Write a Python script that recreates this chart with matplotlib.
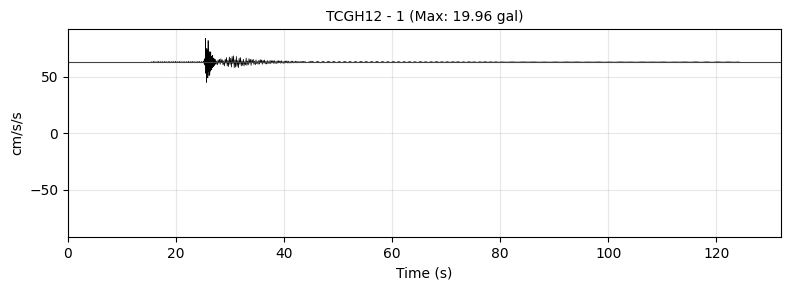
import numpy as np
import matplotlib
matplotlib.use("Agg")
import matplotlib.pyplot as plt

title = "TCGH12 - 1 (Max: 19.96 gal)"
baseline = 62.8

# segments: (start time s, step s, offsets from baseline in cm/s/s)
pre_start, pre_dt = 15.5, 0.2
pre_vals = [0.3, -0.4, 0.5, -0.3, 0.2, -0.5, 0.6, -0.4, 0.3, -0.3, 0.4, -0.6, 0.5,
            -0.3, 0.2, -0.4, 0.5, -0.5, 0.3, -0.2, 0.4, -0.5, 0.6, -0.4, 0.3, -0.3,
            0.5, -0.4, 0.2, -0.3, 0.4, -0.5, 0.3, -0.4, 0.6, -0.5, 0.4, -0.3, 0.5,
            -0.4, 0.3, -0.5, 0.4, -0.3, 0.5, -0.6, 0.4, -0.5]

main_start, main_dt = 25.1, 0.06
main_vals = [0.8, -1.0, 1.5, -2.0, 3.0, -3.0, 21.0, -10.0, 6.0, -18.0, 12.0, -9.0,
             10.0, -14.0, 19.0, -8.0, 9.0, -12.0, 9.0, -11.0, 7.0, -8.0, 9.0, -6.0,
             5.0, -7.0, 4.0, -5.0, 6.0, -4.0, 3.5, -4.0, 3.0, -3.0, 2.5, -2.0]

coda_start, coda_dt = 27.26, 0.13
coda_vals = [2.5, -2.0, 1.0, -2.5, 2.0, -1.0, 2.5, -2.0, 3.0, -0.5, 2.0, -2.5,
             1.0, -3.5, 2.5, -1.0, 4.0, -3.5, 1.5, -4.0, 4.5, -2.0, 3.5, -4.5, 5.0,
             -1.5, 5.5, -5.0, 2.0, -4.5, 5.0, -4.0, 1.5, -5.0, 3.5, -2.0, 4.0, -3.5,
             1.0, -3.0, 2.5, -3.5, 0.5, -2.5, 3.5, -3.0, 1.0, -2.5, 3.0, -1.0, 2.5,
             -3.0, 2.0, -0.5, 2.5, -2.0, 1.0, -2.5,
             2.0, -1.5, 0.5, -2.0, 1.5, -1.8, 2.2, -0.5, 1.8, -2.0, 1.5, -0.8, 1.8,
             -1.6, 0.6, -1.8, 1.4, -1.5, 0.5, -1.2, 1.5, -1.4, 1.2, -0.4, 1.3, -1.2, 1.4,
             -1.2, 0.4, -1.3, 1.1, -1.0, 1.2, -0.3, 0.9, -1.0, 1.2, -0.9, 0.3, -1.1,
             0.8, -1.0, 0.9, -0.3, 1.0, -0.9, 0.8, -0.9, 0.2, -0.8, 0.9, -0.7, 0.8,
             -0.8, 0.3, -0.6, 0.8, -0.7, 0.6, -0.7, 0.5, -0.6, 0.2, -0.6, 0.6, -0.5,
             0.5, -0.2, 0.6, -0.5, 0.5, -0.6]

tail_start, tail_dt = 45.2, 0.5
tail_vals = [0.7, -0.6, 0.7, -0.7, 0.6, -0.6, 0.7, -0.5, 0.6, -0.6, 0.5, -0.6,
             0.6, -0.5, 0.5, -0.6, 0.5, -0.5, 0.6, -0.4, 0.5, -0.5, 0.5, -0.5,
             0.6, -0.6, 0.5, -0.5, 0.4, -0.5, 0.5, -0.4, 0.4, -0.5, 0.4, -0.4,
             0.4, -0.4, 0.3, -0.4, 0.4, -0.3, 0.3, -0.4, 0.3, -0.3, 0.4, -0.3,
             0.3, -0.3, 0.3, -0.3, 0.3, -0.2, 0.3, -0.3, 0.2, -0.3, 0.3, -0.2,
             0.2, -0.3, 0.2, -0.2, 0.3, -0.2, 0.2, -0.2, 0.2, -0.2]

end_start, end_dt = 80.2, 1.0
end_vals = [0.1, -0.1, 0.1, -0.1, 0.1, -0.05, 0.1, -0.1, 0.05, -0.1, 0.1, -0.1,
            0.1, -0.05, 0.1, -0.1, 0.05, -0.05, 0.1, -0.1, 0.05, -0.1, 0.1, -0.05,
            0.05, -0.1, 0.1, -0.05, 0.05, -0.05, 0.1, -0.1, 0.05, -0.05, 0.1, -0.1,
            0.15, -0.15, 0.15, -0.15, 0.15, -0.1, 0.1, -0.1, 0.05]

segments = [(pre_start, pre_dt, pre_vals), (main_start, main_dt, main_vals),
            (coda_start, coda_dt, coda_vals), (tail_start, tail_dt, tail_vals),
            (end_start, end_dt, end_vals)]

t_all, v_all = [], []
for s, dt, vals in segments:
    t_all.append(s + dt * np.arange(len(vals)))
    v_all.append(baseline + np.asarray(vals))
t = np.concatenate(t_all)
v = np.concatenate(v_all)

fig, ax = plt.subplots(figsize=(7.9, 2.9), dpi=100)
ax.plot(t, v, color="black", linewidth=0.5)
ax.axhline(baseline, color="#444444", linewidth=0.8)
ax.set_xlim(0, 132)
ax.set_ylim(-92, 92)
ax.set_title(title, fontsize=10)
ax.set_xlabel("Time (s)")
ax.set_ylabel("cm/s/s")
ax.grid(True, alpha=0.3)
fig.subplots_adjust(left=0.086, right=0.989, top=0.9, bottom=0.182)
fig.savefig("out.png", dpi=100)
